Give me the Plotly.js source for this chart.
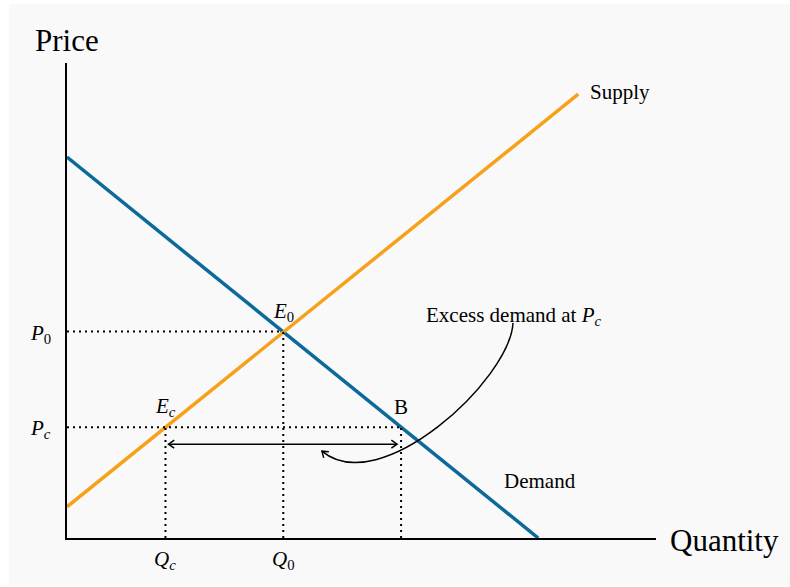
<!DOCTYPE html>
<html>
<head>
<meta charset="utf-8">
<script src="https://cdn.plot.ly/plotly-3.0.1.min.js"></script>
<style>
  html, body { margin: 0; padding: 0; background: #ffffff; }
  #chart { position: absolute; left: 9px; top: 4px; width: 781px; height: 581px; }
</style>
</head>
<body>
<div id="chart"></div>
<script>
// ---- data ----
const demandQ = [0, 10];
const demandP = [10, 0];
const supplyQ = [0, 10.85];
const supplyP = [0.82, 11.65];
// key points: E0 (equilibrium), Ec (supply at ceiling), B (demand at ceiling)
const pointNames = ['<i>E</i><sub>0</sub>', '<i>E</i><sub><i>c</i></sub>', 'B'];
const pointQ = [4.59, 2.09, 7.09];
const pointP = [5.42, 2.91, 2.91];
const priceTickLabels = ['<i>P</i><sub>0</sub>', '<i>P</i><sub><i>c</i></sub>'];
const qtyTickLabels = ['<i>Q</i><sub>0</sub>', '<i>Q</i><sub><i>c</i></sub>'];

const Q0 = pointQ[0], P0 = pointP[0], Qc = pointQ[1], Pc = pointP[1], QB = pointQ[2];

// ---- layout geometry ----
const W = 781, H = 581;
const M = {l: 58, r: 134, t: 59, b: 47};
const xRange = [0, 12.5], yRange = [0, 12.47];
const plotW = W - M.l - M.r, plotH = H - M.t - M.b;
const sx = plotW / (xRange[1] - xRange[0]);   // px per unit
const sy = plotH / (yRange[1] - yRange[0]);
const dx = px => px / sx, dy = px => px / sy;
const FONT = 'Liberation Serif, Times New Roman, serif';

// dotted guide lines
const gx = [0, Q0, null, 0, QB, null, Q0, Q0, null, Qc, Qc, null, QB, QB];
const gy = [P0, P0, null, Pc, Pc, null, 0, P0, null, 0, Pc, null, 0, Pc];

const traces = [
  {x: demandQ, y: demandP, mode: 'lines', line: {color: '#0b6a99', width: 3.5}, hoverinfo: 'skip'},
  {x: supplyQ, y: supplyP, mode: 'lines', line: {color: '#f7a11a', width: 3.5}, hoverinfo: 'skip'},
  {x: gx, y: gy, mode: 'lines', connectgaps: false, line: {color: '#000', width: 2, dash: '2px,4px'}, hoverinfo: 'skip'}
];

// arrowhead (open V) at tip (data) pointing along direction (pixel dir, y down)
function vHead(tx, ty, dirx, diry, len, ang) {
  const n = Math.hypot(dirx, diry);
  const bx = -dirx / n, by = -diry / n;
  const pts = [];
  [ang, -ang].forEach(a => {
    const c = Math.cos(a), s = Math.sin(a);
    const rx = bx * c - by * s, ry = bx * s + by * c;
    pts.push([tx + dx(rx * len), ty - dy(ry * len)]);
  });
  return `M${pts[0][0]},${pts[0][1]} L${tx},${ty} L${pts[1][0]},${pts[1][1]}`;
}

// double arrow just below the ceiling price
const arrY = Pc - dy(17);
const arrL = Qc + dx(3), arrR = QB - dx(4);
// curved pointer from the label down to the arrow
const c0 = [9.465, 5.645], c1 = [9.40, 4.15], c2 = [6.64, 1.00], c3 = [5.41, 2.28];
const cdirx = (c3[0] - c2[0]) * sx, cdiry = -(c3[1] - c2[1]) * sy;
const ARW = (35 * Math.PI) / 180;

const shapes = [
  {type: 'line', xref: 'x', yref: 'y', x0: arrL, y0: arrY, x1: arrR, y1: arrY, line: {color: '#000', width: 1.5}},
  {type: 'path', xref: 'x', yref: 'y', path: vHead(arrL, arrY, -1, 0, 7, ARW), line: {color: '#000', width: 1.5}},
  {type: 'path', xref: 'x', yref: 'y', path: vHead(arrR, arrY, 1, 0, 7, ARW), line: {color: '#000', width: 1.5}},
  {type: 'path', xref: 'x', yref: 'y', path: `M${c0[0]},${c0[1]} C${c1[0]},${c1[1]} ${c2[0]},${c2[1]} ${c3[0]},${c3[1]}`, line: {color: '#000', width: 1.5}},
  {type: 'path', xref: 'x', yref: 'y', path: vHead(c3[0], c3[1], cdirx, cdiry, 7, ARW), line: {color: '#000', width: 1.5}}
];

const f21 = {family: FONT, size: 21, color: '#000'};
const f31 = {family: FONT, size: 31, color: '#000'};
const ann = [];
// point labels
pointNames.forEach((t, i) => ann.push({x: pointQ[i], y: pointP[i], xref: 'x', yref: 'y', text: t, showarrow: false, xanchor: 'center', yanchor: 'middle', yshift: 20, font: f21}));
// price labels (left of axis)
[P0, Pc].forEach((p, i) => ann.push({x: dx(-14) / (xRange[1]), xref: 'paper', y: p, yref: 'y', text: priceTickLabels[i], showarrow: false, xanchor: 'right', yanchor: 'middle', yshift: -2, font: f21}));
// quantity labels (below axis)
[Q0, Qc].forEach((q, i) => ann.push({x: q, xref: 'x', y: -22 / plotH, yref: 'paper', text: qtyTickLabels[i], showarrow: false, xanchor: 'center', yanchor: 'middle', font: f21}));
// curve labels
ann.push({x: supplyQ[1], y: supplyP[1], xref: 'x', yref: 'y', text: 'Supply', showarrow: false, xanchor: 'left', yanchor: 'middle', xshift: 10, yshift: 2, font: f21});
ann.push({x: 10.03, y: 1.50, xref: 'x', yref: 'y', text: 'Demand', showarrow: false, xanchor: 'center', yanchor: 'middle', font: f21});
ann.push({x: 9.49, y: 5.83, xref: 'x', yref: 'y', text: 'Excess demand at <i>P</i><sub><i>c</i></sub>', showarrow: false, xanchor: 'center', yanchor: 'middle', font: f21});
// axis titles
ann.push({x: 0, y: 1 + 22 / plotH, xref: 'paper', yref: 'paper', text: 'Price', showarrow: false, xanchor: 'center', yanchor: 'middle', font: f31});
ann.push({x: 1 + 12 / plotW, y: 0, xref: 'paper', yref: 'paper', text: 'Quantity', showarrow: false, xanchor: 'left', yanchor: 'middle', yshift: -2, font: f31});

const layout = {
  width: W, height: H,
  margin: M,
  paper_bgcolor: '#f9f9f9',
  plot_bgcolor: '#f9f9f9',
  showlegend: false,
  xaxis: {range: xRange, showgrid: false, zeroline: false, showticklabels: false, ticks: '', showline: true, linecolor: '#000', linewidth: 2, fixedrange: true},
  yaxis: {range: yRange, showgrid: false, zeroline: false, showticklabels: false, ticks: '', showline: true, linecolor: '#000', linewidth: 2, fixedrange: true},
  shapes: shapes,
  annotations: ann,
  font: {family: FONT}
};

Plotly.newPlot('chart', traces, layout, {displayModeBar: false, staticPlot: true});
</script>
</body>
</html>
